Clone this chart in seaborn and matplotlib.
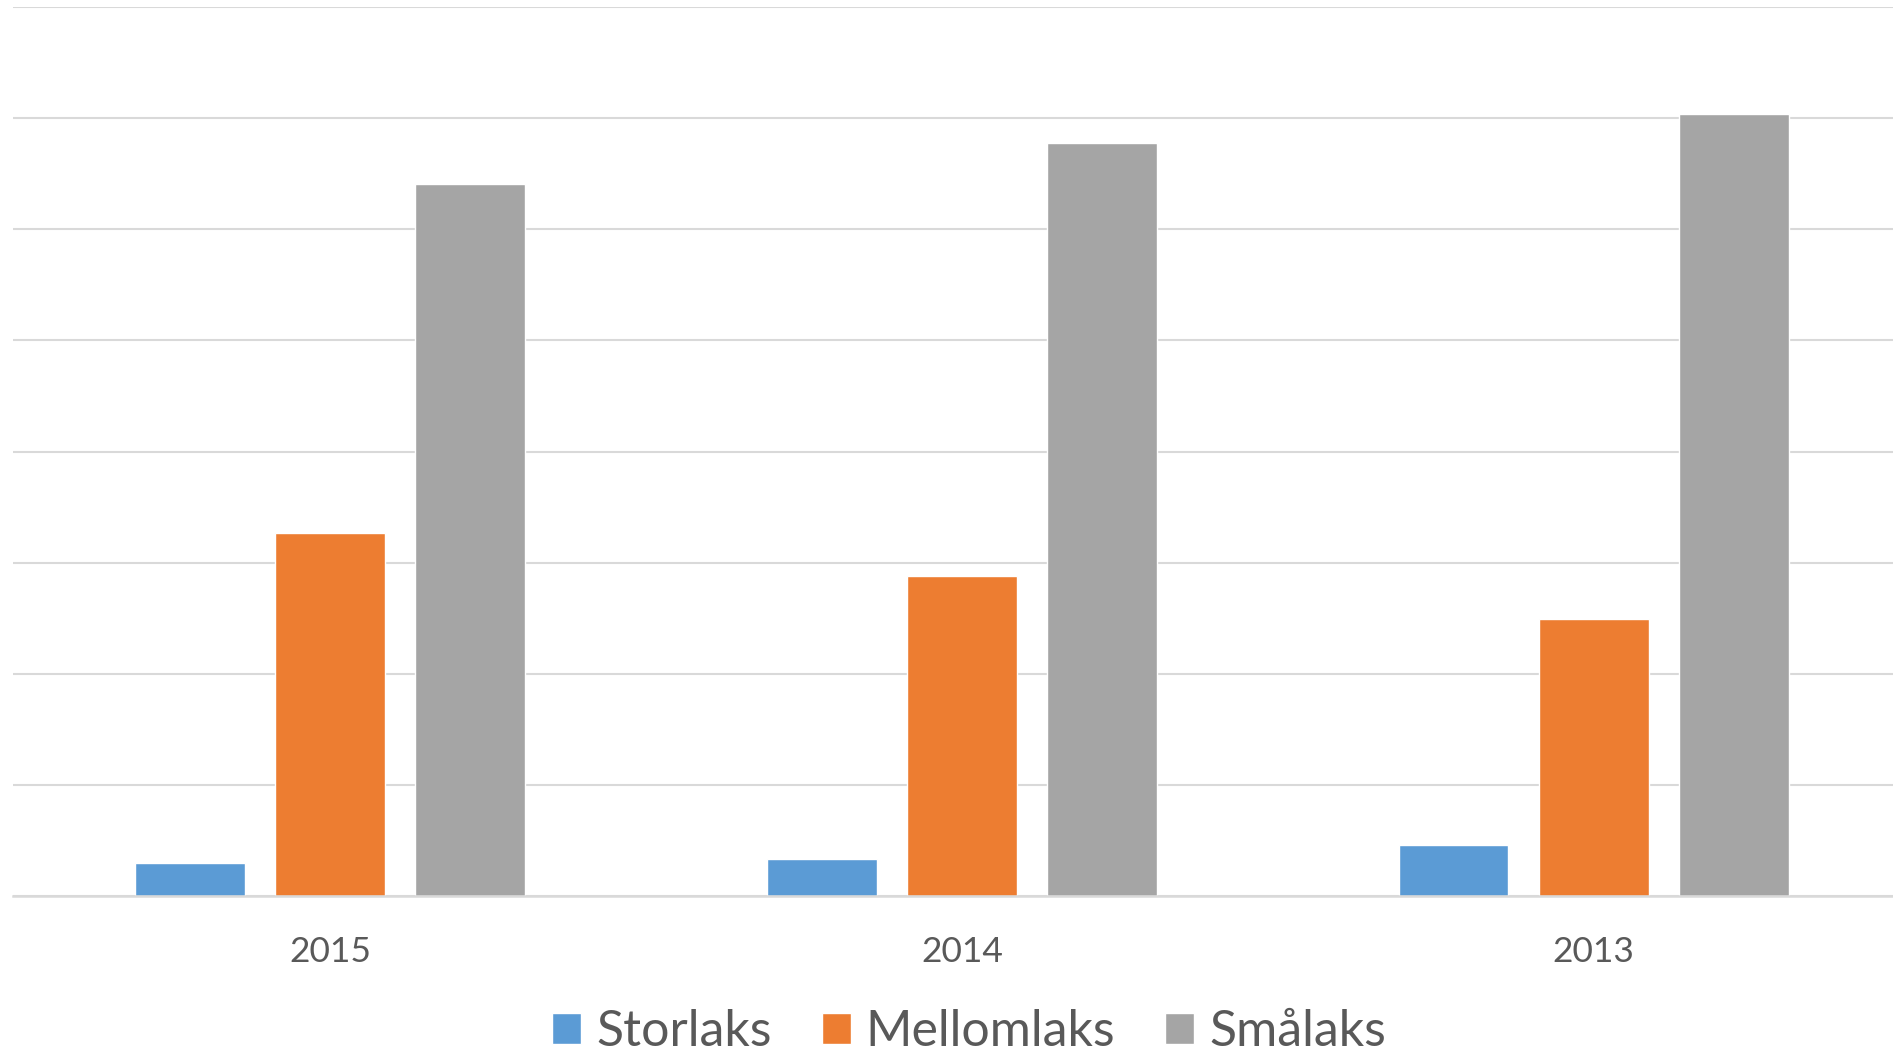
import matplotlib
matplotlib.use("Agg")
import matplotlib.pyplot as plt
import seaborn as sns
import pandas as pd

years = ["2015", "2014", "2013"]
series = ["Storlaks", "Mellomlaks", "Smålaks"]
storlaks = [0.30, 0.33, 0.46]
mellomlaks = [3.27, 2.88, 2.49]
smalaks = [6.41, 6.78, 7.04]
colors = ["#5B9BD5", "#ED7D31", "#A5A5A5"]

rows = []
for name, vals in zip(series, [storlaks, mellomlaks, smalaks]):
    for y, v in zip(years, vals):
        rows.append({"year": y, "series": name, "value": v})
df = pd.DataFrame(rows)

sns.set_theme(style="white")
plt.rcParams["font.family"] = ["Lato", "DejaVu Sans"]

fig = plt.figure(figsize=(18.93, 10.53), dpi=100)
ax = fig.add_axes([13 / 1893, 1 - 896 / 1053, 1 - 13 / 1893, (896 - 7) / 1053])

sns.barplot(data=df, x="year", y="value", hue="series", order=years,
            hue_order=series, palette=colors, width=0.665, gap=0.215,
            saturation=1, ax=ax, legend=True, zorder=3)

ax.set_ylim(0, 8)
ax.set_xlim(-0.502, 2.474)
ax.set_yticks(range(0, 9))
ax.yaxis.grid(True, color="#D9D9D9", linewidth=1.5, zorder=0)
ax.set_axisbelow(True)
ax.tick_params(axis="y", left=False, labelleft=False)
ax.tick_params(axis="x", length=0, pad=29, labelsize=25.5, labelcolor="#595959")
for s in ["left", "right", "top"]:
    ax.spines[s].set_visible(False)
ax.spines["bottom"].set_color("#D9D9D9")
ax.spines["bottom"].set_linewidth(1.8)
ax.spines["bottom"].set_zorder(4)
ax.set_xlabel("")
ax.set_ylabel("")

handles, labels = ax.get_legend_handles_labels()
ax.get_legend().remove()
leg = fig.legend(handles, labels, loc="center", bbox_to_anchor=(0.512, 0.02),
                 ncol=3, frameon=False, fontsize=36, handlelength=0.58,
                 handleheight=0.58, handletextpad=0.3, columnspacing=1.0,
                 borderaxespad=0)
for t in leg.get_texts():
    t.set_color("#595959")

fig.savefig("out.png", dpi=100, facecolor="white")
